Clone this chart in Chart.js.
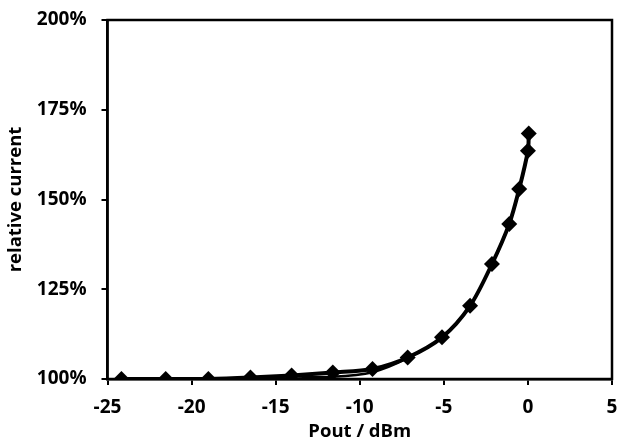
<!DOCTYPE html>
<html lang="en">
<head>
  <meta charset="UTF-8">
  <title>Relative current vs Pout</title>
  <script src="https://cdn.jsdelivr.net/npm/chart.js"></script>
  <style>
    html, body { margin: 0; padding: 0; background: #fff; }
    .chart-box { width: 620px; height: 443px; position: relative; }
  </style>
</head>
<body>
  <div class="chart-box"><canvas id="chart"></canvas></div>

  <script>
    // measured points (Pout in dBm, current in % of idle)
    const poutDbm = [-24.17, -21.54, -19.0, -16.5, -14.05, -11.6, -9.24, -7.15, -5.11, -3.44, -2.14, -1.11, -0.52, 0.0, 0.05];
    const relCurrent = [100, 100, 100, 100.4, 101.0, 101.8, 102.8, 106.0, 111.6, 120.4, 132.0, 143.2, 152.9, 163.6, 168.4];
    // second, almost overlapping trace (visible only at low power)
    const relCurrentB = [100, 100, 100, 100.3, 100.7, 100.6, 101.9, 105.8, 111.6, 120.4, 132.0, 143.2, 152.9, 163.6, 168.4];

    const xTicks = [-25, -20, -15, -10, -5, 0, 5];
    const yTicks = [100, 125, 150, 175, 200];

    const toPoints = (xs, ys) => xs.map((x, i) => ({ x: x, y: ys[i] }));

    const ink = "#000";
    const tickFont = { family: "'Open Sans', sans-serif", size: 19, weight: "bold" };
    const titleFont = { family: "'Open Sans', sans-serif", size: 18.5, weight: "bold" };

    // full black frame around the plot
    const frame = {
      id: "frame",
      afterDraw(chart) {
        const { ctx, chartArea: a } = chart;
        ctx.save();
        ctx.strokeStyle = ink;
        ctx.lineWidth = 2.5;
        ctx.strokeRect(a.left, a.top, a.right - a.left, a.bottom - a.top);
        ctx.restore();
      }
    };

    new Chart(document.getElementById("chart"), {
      type: "scatter",
      data: {
        datasets: [
          {
            data: toPoints(poutDbm, relCurrentB),
            showLine: true,
            borderColor: ink,
            borderWidth: 2.5,
            pointRadius: 0,
            tension: 0.3
          },
          {
            data: toPoints(poutDbm, relCurrent),
            showLine: true,
            borderColor: ink,
            borderWidth: 4,
            backgroundColor: ink,
            pointStyle: "rectRot",
            pointRadius: 8,
            pointBorderWidth: 0,
            tension: 0.3
          }
        ]
      },
      options: {
        responsive: true,
        maintainAspectRatio: false,
        animation: false,
        layout: { padding: { top: 20, right: 7, left: 0, bottom: 0 } },
        plugins: { legend: { display: false }, tooltip: { enabled: false } },
        scales: {
          x: {
            type: "linear",
            min: -25,
            max: 5,
            afterBuildTicks: s => { s.ticks = xTicks.map(v => ({ value: v })); },
            afterFit: s => { s.height = 64; s.paddingLeft = 0; s.paddingRight = 0; },
            border: { color: ink, width: 2.5 },
            grid: { drawOnChartArea: false, drawTicks: true, tickLength: 6, color: ink, lineWidth: 2 },
            ticks: { color: ink, font: tickFont, padding: 11, maxRotation: 0 },
            title: { display: true, text: "Pout / dBm", color: ink, font: titleFont, padding: { top: 0, bottom: 0 } }
          },
          y: {
            min: 100,
            max: 200,
            afterBuildTicks: s => { s.ticks = yTicks.map(v => ({ value: v })); },
            afterFit: s => { s.width = 107.5; s.paddingTop = 0; s.paddingBottom = 0; },
            border: { color: ink, width: 2.5 },
            grid: { drawOnChartArea: false, drawTicks: true, tickLength: 6, color: ink, lineWidth: 2 },
            ticks: { color: ink, font: tickFont, padding: 15, callback: v => v + "%" },
            title: { display: true, text: "relative current", color: ink, font: titleFont, padding: { top: 5, bottom: 0 } }
          }
        }
      },
      plugins: [frame]
    });
  </script>
</body>
</html>
